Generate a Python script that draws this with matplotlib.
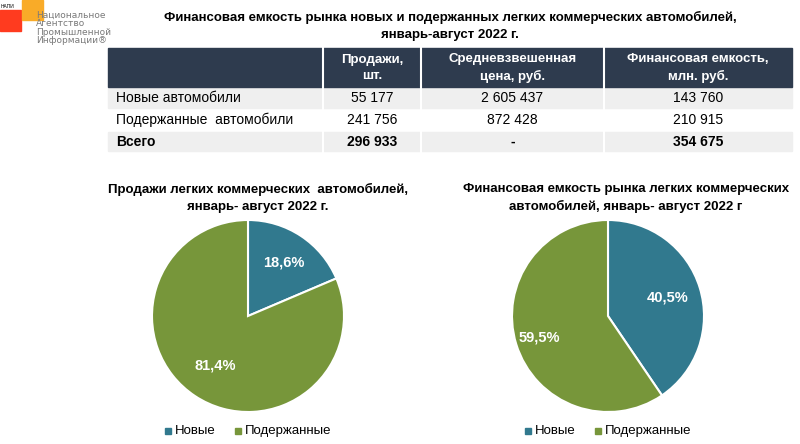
import matplotlib
matplotlib.use("Agg")
import matplotlib.pyplot as plt
from matplotlib.patches import Rectangle
import numpy as np

plt.rcParams["font.family"] = "Liberation Sans"
title = "Финансовая емкость рынка новых и подержанных легких коммерческих автомобилей,\nянварь-август 2022 г."
col_headers = ["", "Продажи,\nшт.", "Средневзвешенная\nцена, руб.", "Финансовая емкость,\nмлн. руб."]
row_labels = ["Новые автомобили", "Подержанные  автомобили", "Всего"]
sales = ["55 177", "241 756", "296 933"]
prices = ["2 605 437", "872 428", "-"]
capacity = ["143 760", "210 915", "354 675"]
pie_labels = ["Новые", "Подержанные"]
sales_share = [18.6, 81.4]
cap_share = [40.5, 59.5]
colors = ["#31798e", "#77963a"]

W, H = 800, 444
fig = plt.figure(figsize=(8, 4.44), dpi=100)
bg = fig.add_axes([0, 0, 1, 1])
bg.set_xlim(0, W); bg.set_ylim(H, 0); bg.axis("off")

# logo
bg.add_patch(Rectangle((0, 10), 21, 21, color="#ff3b1f"))
bg.add_patch(Rectangle((22, 0), 21, 20, color="#f9ab28"))
bg.text(1, 7, "НАПИ", fontsize=3.5, va="center")
bg.text(36, 28, "Национальное\nАгентство\nПромышленной\nИнформации®", fontsize=6.5, color="#7a7a7a",
        va="center", linespacing=0.95, fontfamily="Liberation Sans Narrow")

bg.text(450, 26, title, ha="center", va="center", fontsize=9.5, fontweight="bold", linespacing=1.55)

xs = [108, 323, 421, 604, 792]
bg.add_patch(Rectangle((108, 48), 684, 39, color="#2e3b4e"))
for i, h in enumerate(col_headers):
    if h:
        bg.text((xs[i] + xs[i+1]) / 2, 68, h, ha="center", va="center", color="white",
                fontsize=9.5, fontweight="bold", linespacing=1.4)
rows_y = [87, 109, 131, 152]
for r in range(3):
    y0, y1 = rows_y[r], rows_y[r+1]
    if r != 1:
        bg.add_patch(Rectangle((108, y0 + 1), 684, y1 - y0 - 2, color="#efefef", zorder=0))
    bold = "bold" if r == 2 else "normal"
    yc = (y0 + y1) / 2
    bg.text(116, yc, row_labels[r], va="center", fontsize=10, fontweight=bold)
    for i, v in enumerate([sales[r], prices[r], capacity[r]]):
        bg.text((xs[i+1] + xs[i+2]) / 2, yc, v, ha="center", va="center", fontsize=10, fontweight=bold)
for x in xs[1:-1]:
    bg.plot([x, x], [48, 152], color="white", lw=1.5)

bg.text(258, 198, "Продажи легких коммерческих  автомобилей,\nянварь- август 2022 г.", ha="center", va="center",
        fontsize=9.5, fontweight="bold", linespacing=1.5)
bg.text(626, 198, "Финансовая емкость рынка легких коммерческих\nавтомобилей, январь- август 2022 г", ha="center", va="center",
        fontsize=9.5, fontweight="bold", linespacing=1.5)

def pie(cx, cy, r, vals, label_r):
    ax = fig.add_axes([(cx - r) / W, 1 - (cy + r) / H, 2 * r / W, 2 * r / H])
    ax.pie(vals, colors=colors, startangle=90, counterclock=False,
           wedgeprops=dict(edgecolor="white", linewidth=1.5), radius=1)
    ang = 90
    for v, lr in zip(vals, label_r):
        mid = ang - v * 3.6 / 2
        ang -= v * 3.6
        t = np.deg2rad(mid)
        ax.text(lr * np.cos(t), lr * np.sin(t), f"{v:.1f}%".replace(".", ","), ha="center", va="center",
                color="white", fontsize=10.5, fontweight="bold")
    ax.set_xlim(-1, 1); ax.set_ylim(-1, 1); ax.set_aspect("equal")

pie(248, 316, 96, sales_share, [0.67, 0.62])
pie(608, 316, 96, cap_share, [0.65, 0.75])

for cx in [248, 608]:
    for j, (lab, c) in enumerate(zip(pie_labels, colors)):
        x0 = cx - 83 + j * 70
        bg.add_patch(Rectangle((x0, 428), 6, 6, color=c))
        bg.text(x0 + 10, 431, lab, va="center", fontsize=9.5)

fig.savefig("out.png", dpi=100)
